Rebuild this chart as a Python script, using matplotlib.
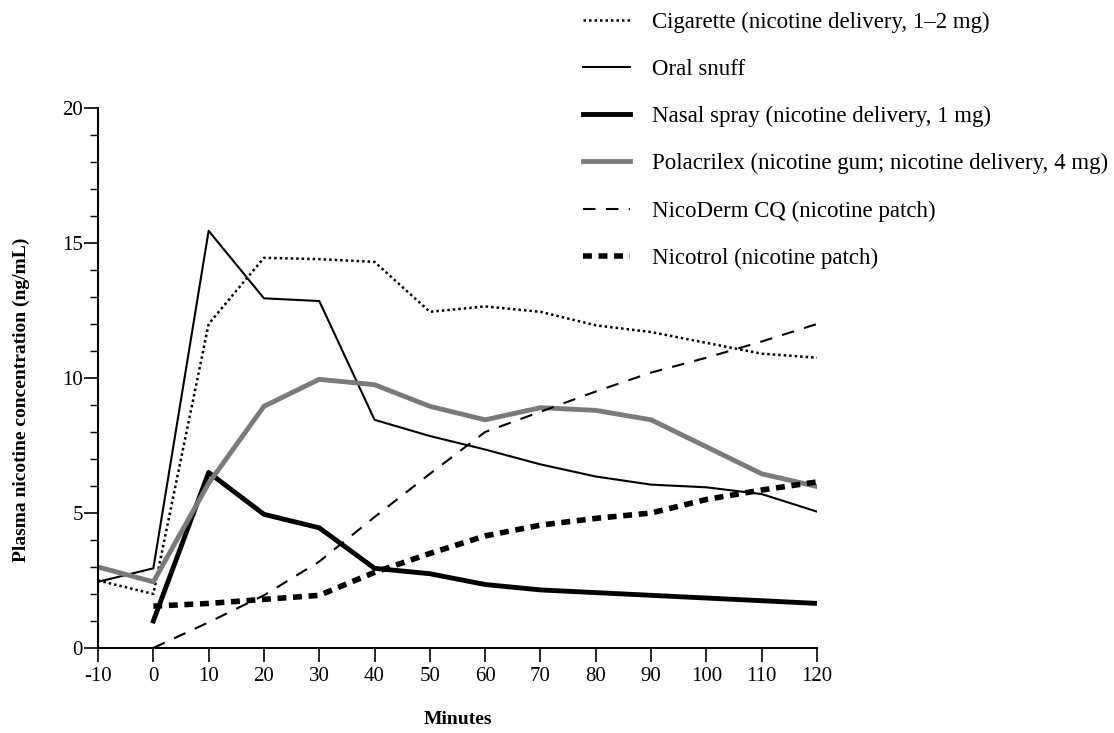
import matplotlib
matplotlib.use("Agg")
import matplotlib.pyplot as plt
from matplotlib.ticker import MultipleLocator

plt.rcParams['font.family'] = ['Liberation Serif', 'DejaVu Serif']
plt.rcParams['axes.unicode_minus'] = False

minutes = [-10, 0, 10, 20, 30, 40, 50, 60, 70, 80, 90, 100, 110, 120]
m0 = minutes[1:]

cigarette = [2.5, 2.0, 12.0, 14.45, 14.4, 14.3, 12.45, 12.65, 12.45, 11.95, 11.7, 11.3, 10.9, 10.75]
oral_snuff = [2.45, 2.95, 15.45, 12.95, 12.85, 8.45, 7.85, 7.35, 6.8, 6.35, 6.05, 5.95, 5.7, 5.05]
nasal_spray = [1.0, 6.5, 4.95, 4.45, 2.95, 2.75, 2.35, 2.15, 2.05, 1.95, 1.85, 1.75, 1.65]
polacrilex = [3.0, 2.45, 6.1, 8.95, 9.95, 9.75, 8.95, 8.45, 8.9, 8.8, 8.45, 7.45, 6.45, 5.98]
nicoderm = [0.0, 0.95, 1.95, 3.2, 4.85, 6.45, 8.0, 8.75, 9.5, 10.2, 10.75, 11.35, 12.0]
nicotrol = [1.55, 1.65, 1.8, 1.95, 2.8, 3.5, 4.15, 4.55, 4.8, 5.0, 5.5, 5.85, 6.15]

labels = ["Cigarette (nicotine delivery, 1\u20132 mg)",
          "Oral snuff",
          "Nasal spray (nicotine delivery, 1 mg)",
          "Polacrilex (nicotine gum; nicotine delivery, 4 mg)",
          "NicoDerm CQ (nicotine patch)",
          "Nicotrol (nicotine patch)"]

fig = plt.figure(figsize=(11.14, 7.33), dpi=100)
ax = fig.add_axes([0.088, 0.116, 0.6454, 0.7367])

ax.plot(minutes, cigarette, color='black', lw=1.8, ls=(0, (1, 1.2)), label=labels[0])
ax.plot(minutes, oral_snuff, color='black', lw=1.5, label=labels[1])
ax.plot(m0, nasal_spray, color='black', lw=3.5, label=labels[2])
ax.plot(minutes, polacrilex, color='#7a7a7a', lw=3.5, solid_joinstyle='round', label=labels[3])
ax.plot(m0, nicoderm, color='black', lw=1.5, ls=(0, (6, 5)), label=labels[4])
ax.plot(m0, nicotrol, color='black', lw=4, ls=(0, (1.6, 1.2)), label=labels[5])

ax.set_xlim(-10, 120)
ax.set_ylim(0, 20)
ax.set_xticks(minutes)
ax.set_yticks([0, 5, 10, 15, 20])
ax.yaxis.set_minor_locator(MultipleLocator(1))
for s in ['top', 'right']:
    ax.spines[s].set_visible(False)
ax.spines['left'].set_linewidth(1.5)
ax.spines['bottom'].set_linewidth(1.5)
ax.spines['left'].set_bounds(0, 20)
ax.tick_params(axis='both', which='major', direction='out', length=10, width=1.2, labelsize=15)
ax.tick_params(axis='y', which='major', pad=1)
ax.tick_params(axis='y', which='minor', direction='out', length=6, width=1)
ax.set_xlabel("Minutes", fontsize=14, fontweight='bold', labelpad=18)
ax.set_ylabel("Plasma nicotine concentration (ng/mL)", fontsize=14, fontweight='bold')
ax.yaxis.set_label_coords(-0.095, 0.46)

fig.legend(loc='upper left', bbox_to_anchor=(0.505, 1.012), frameon=False, fontsize=16.5,
           handlelength=2.05, handletextpad=0.96, labelspacing=1.135)

fig.savefig("out.png", dpi=100)
